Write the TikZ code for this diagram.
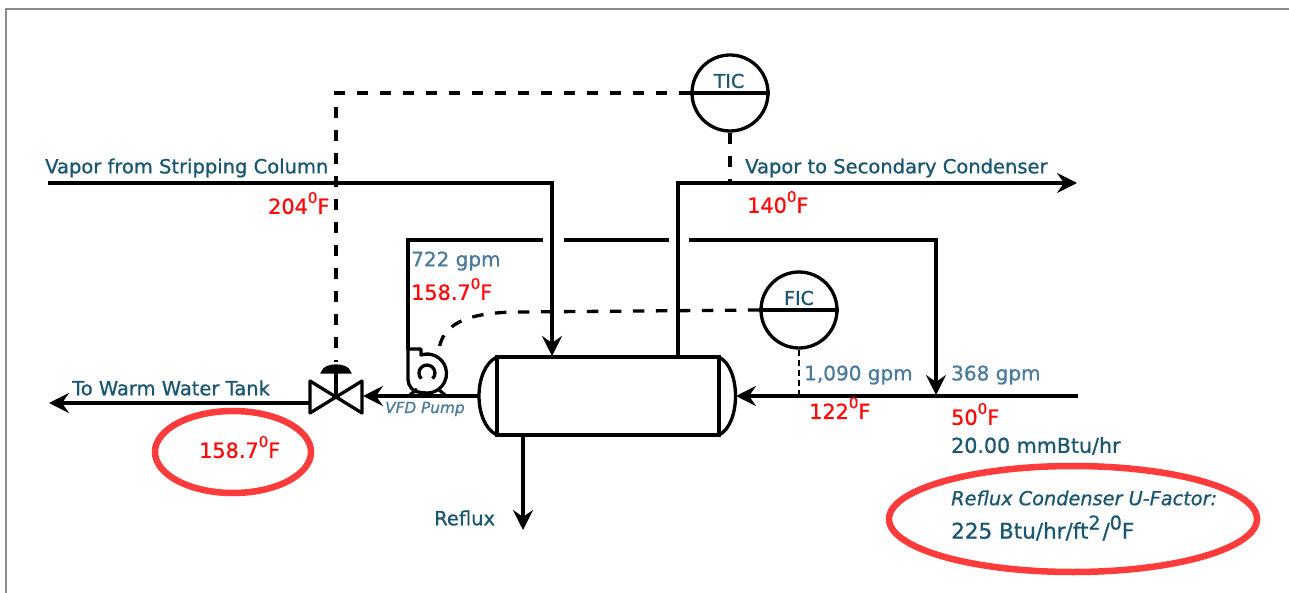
\documentclass[tikz,border=0pt]{standalone}
\usepackage{fontspec}
\setmainfont{DejaVu Sans}[RawFeature={embolden=0.9}]
\usetikzlibrary{arrows.meta,calc}
\definecolor{deepteal}{HTML}{1B5670}
\definecolor{steel}{HTML}{4A7A9C}
\definecolor{hot}{HTML}{FF0A0A}
\definecolor{ring}{HTML}{FF3B3B}
\definecolor{frameline}{HTML}{8C8C8C}
\newcommand{\supr}[1]{\raisebox{0.52em}{\fontsize{15}{15}\selectfont #1}}
\newcommand{\bigsupr}[1]{\raisebox{0.42em}{\fontsize{19}{19}\selectfont #1}}
\newcommand{\degF}{\supr{0}F}
\tikzset{
  x=1pt,y=-1pt,
  pipe/.style={line width=3.3pt,draw=black},
  flow/.style={pipe,-{Stealth[length=20pt,width=20pt,inset=7pt]}},
  signal/.style={line width=3.3pt,draw=black,dash pattern=on 11.5pt off 11.5pt},
  finesignal/.style={line width=2.4pt,draw=black,dash pattern=on 6pt off 4pt},
  instr/.style={circle,draw=black,line width=3.3pt,minimum size=76pt,inner sep=0pt,fill=white},
  lbl/.style={anchor=west,inner sep=0pt,font=\fontsize{19.5}{22}\selectfont},
  tealtext/.style={lbl,text=deepteal},
  ratetext/.style={lbl,text=steel,font=\fontsize{20}{22}\selectfont},
  temptext/.style={lbl,text=hot,font=\fontsize{20.8}{22}\selectfont},
  instrtag/.style={anchor=center,inner sep=0pt,text=deepteal,font=\fontsize{19}{22}\selectfont},
  oval/.style={draw=ring,line width=6.5pt},
}
\begin{document}
\begin{tikzpicture}
\useasboundingbox (0,0) rectangle (1289,593);
\draw[frameline,line width=1.2pt] (6,593) -- (6,9) -- (1289,9);

% coordinates
\coordinate (vin) at (48,183);
\coordinate (vturn) at (552,183);
\coordinate (vesselTopIn) at (552,356);
\coordinate (vesselTopOut) at (678,356);
\coordinate (voutturn) at (678,183);
\coordinate (vout) at (1077,183);
\coordinate (feedR) at (1078,396);
\coordinate (vesselR) at (736,396);
\coordinate (branchTip) at (936,395);
\coordinate (branchCorner) at (936,240);
\coordinate (gapA) at (689,240);
\coordinate (gapB) at (669,240);
\coordinate (gapC) at (564,240);
\coordinate (gapD) at (543,240);
\coordinate (loopCorner) at (408,240);
\coordinate (pumpOut) at (408,350);
\coordinate (vesselL) at (480,396);
\coordinate (valveR) at (363,396);
\coordinate (valveL) at (310,403);
\coordinate (tank) at (49,403);
\coordinate (refluxTop) at (523,435);
\coordinate (refluxEnd) at (523,530);
\coordinate (valveTop) at (336,362);
\coordinate (sigCorner) at (336,93);
\coordinate (pumpSig) at (439,350);

% instruments
\node[instr] (tic) at (730,93) {};
\node[instr] (fic) at (799,310) {};
\draw[line width=3.3pt] (tic.west) -- (tic.east);
\draw[line width=3.3pt] (fic.west) -- (fic.east);
\node[instrtag] (ticT) at (729,81) {TIC};
\node[instrtag] (ficT) at (799,298) {FIC};

% signals
\draw[signal] (tic.west) -- (sigCorner) -- (valveTop);
\draw[signal] (tic.south) -- (730,183);
\draw[finesignal] (fic.south) -- (799,396);
\draw[signal] (fic.west) -- (520,312) .. controls (465,312) and (442,325) .. (pumpSig);

% pipes
\draw[flow] (vin) -- (vturn) -- (vesselTopIn);
\draw[flow] (vesselTopOut) -- (voutturn) -- (vout);
\draw[flow] (gapA) -- (branchCorner) -- (branchTip);
\draw[pipe] (gapB) -- (gapC);
\draw[pipe] (gapD) -- (loopCorner) -- (pumpOut);
\draw[flow] (feedR) -- (vesselR);
\draw[flow] (vesselL) -- (valveR);
\draw[flow] (refluxTop) -- (refluxEnd);
\draw[flow] (valveL) -- (tank);

% vessel
\draw[line width=3.3pt,fill=white] (497,357) rectangle (719,435);
\draw[line width=3.3pt] (497,357) .. controls (473,368) and (473,424) .. (497,435);
\draw[line width=3.3pt] (719,357) .. controls (741,368) and (741,424) .. (719,435);

% pump
\draw[line width=3.3pt,line join=round,fill=white]
  (408,349) -- (421,349) -- (421,355)
  arc[start angle=-108,end angle=90,radius=19.5]
  -- (421,392.5) arc[start angle=90,end angle=180,radius=13] -- cycle;
\draw[line width=3.3pt] (421.3,378.7) arc[start angle=135,end angle=405,radius=8];
\draw[line width=3.3pt] (410,395) -- (417,389) (445,395) -- (438,389);

% valve
\draw[line width=3.3pt,line join=round,fill=white] (336,397) -- (310,381) -- (310,413) -- cycle;
\draw[line width=3.3pt,line join=round,fill=white] (336,397) -- (362,381) -- (362,413) -- cycle;
\draw[line width=3.3pt] (336,397) -- (336,371);
\draw[line width=3.3pt,fill=black] (323,372) .. controls (325,364) and (347,364) .. (349,372) -- cycle;

% ovals
\draw[oval] (233,452) ellipse[x radius=78,y radius=41];
\draw[oval] (1073,519) ellipse[x radius=184,y radius=53];

% labels
\node[tealtext] (l1) at (45,168) {Vapor from Stripping Column};
\node[temptext] (l2) at (268,203) {204\degF};
\node[tealtext] (l3) at (745,168) {Vapor to Secondary Condenser};
\node[temptext] (l4) at (747,202) {140\degF};
\node[ratetext] (l5) at (411,261) {722 gpm};
\node[temptext] (l6) at (411,289) {158.7\degF};
\node[anchor=west,inner sep=0pt,text=steel,font=\fontsize{15.3}{16}\selectfont\itshape] (l7) at (385,409) {VFD Pump};
\node[tealtext] (l8) at (72,388) {To Warm Water Tank};
\node[temptext] (l9) at (199,447) {158.7\degF};
\node[ratetext] (l10) at (804,375) {1,090 gpm};
\node[ratetext] (l11) at (951,375) {368 gpm};
\node[temptext] (l12) at (809,408) {122\degF};
\node[temptext] (l13) at (951,414) {50\degF};
\node[tealtext,font=\fontsize{20.6}{22}\selectfont] (l14) at (951,446) {20.00 mmBtu/hr};
\node[tealtext] (l15) at (434,518) {Reflux};
\node[tealtext,font=\fontsize{19.3}{20}\selectfont\itshape] (l16) at (951,498) {Reflux Condenser U-Factor:};
\node[tealtext,font=\fontsize{21.5}{22}\selectfont] (l17) at (951,528) {225 Btu/hr/ft\bigsupr{2}\hspace{2pt}/\bigsupr{0}F};
\end{tikzpicture}
\end{document}
